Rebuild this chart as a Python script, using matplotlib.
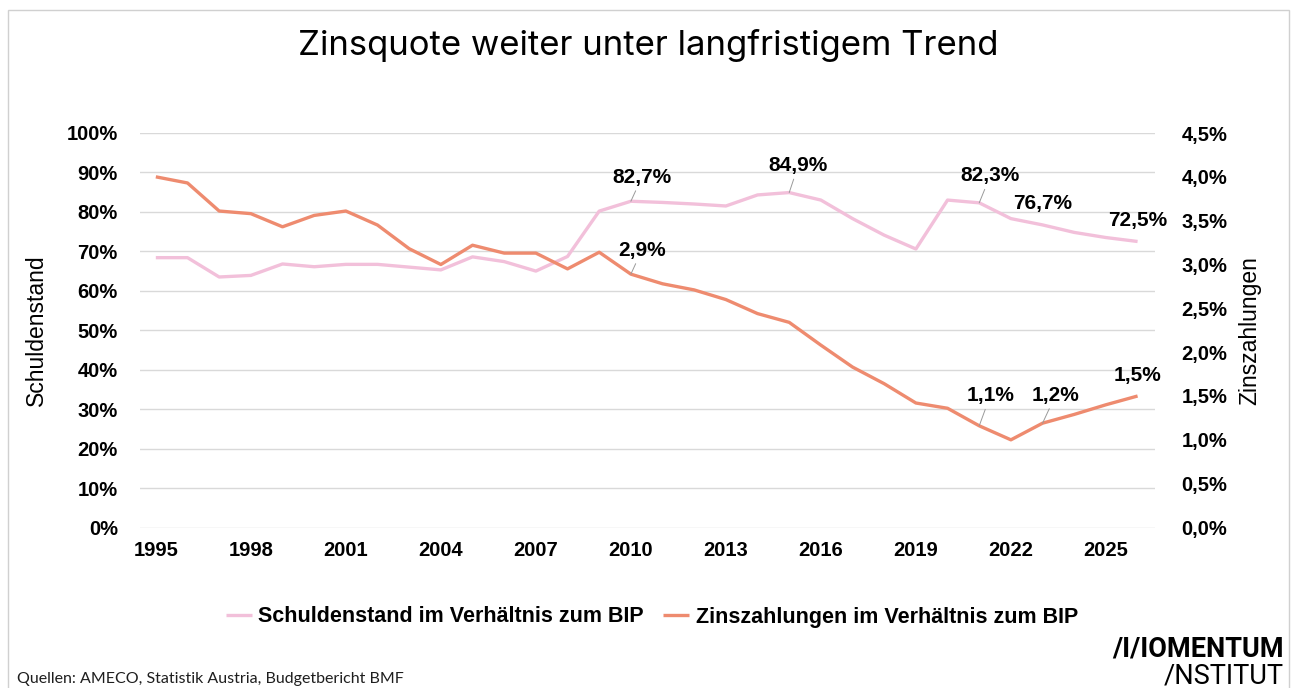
import matplotlib
matplotlib.use("Agg")
import matplotlib.pyplot as plt
from matplotlib.patches import Rectangle
from matplotlib.ticker import FuncFormatter

# Data
years = list(range(1995, 2027))
schuldenstand = [68.4, 68.4, 63.5, 63.9, 66.8, 66.1, 66.7, 66.7, 66.0, 65.3,
                 68.6, 67.4, 65.0, 68.7, 80.2, 82.7, 82.4, 82.0, 81.5, 84.3,
                 84.9, 83.0, 78.3, 74.1, 70.6, 83.0, 82.3, 78.3, 76.7, 74.8,
                 73.5, 72.5]
zinszahlungen = [4.00, 3.93, 3.61, 3.58, 3.43, 3.56, 3.61, 3.45, 3.18, 3.00,
                 3.22, 3.13, 3.13, 2.95, 3.14, 2.89, 2.78, 2.71, 2.60, 2.44,
                 2.34, 2.08, 1.83, 1.64, 1.42, 1.36, 1.16, 1.00, 1.19, 1.29,
                 1.40, 1.50]
xtick_years = list(range(1995, 2026, 3))

# labelled points: (year, text, offset in pixels, leader line)
schulden_labels = [(2010, "82,7%", (11, 24), True),
                   (2015, "84,9%", (9, 27), True),
                   (2021, "82,3%", (11, 27), True),
                   (2023, "76,7%", (0, 21), False),
                   (2026, "72,5%", (0, 21), False)]
zins_labels = [(2010, "2,9%", (11, 24), True),
               (2021, "1,1%", (11, 30), True),
               (2023, "1,2%", (13, 28), True),
               (2026, "1,5%", (0, 20), False)]

PINK = "#F2C0DA"
ORANGE = "#EE8B6F"
GRID = "#D9D9D9"
LABEL_FONT = ["Liberation Sans", "DejaVu Sans"]

fig = plt.figure(figsize=(12.97, 6.88), dpi=100)
fig.patches.append(Rectangle((8 / 1297, -0.01), 1281 / 1297, 1 - 10 / 688 + 0.01,
                             transform=fig.transFigure, fill=False,
                             edgecolor="#D0D0D0", lw=1))

ax = fig.add_axes([140 / 1297, 1 - 527.5 / 688, 1015 / 1297, 394.5 / 688])
ax2 = ax.twinx()

l1, = ax.plot(years, schuldenstand, color=PINK, lw=2.4, solid_capstyle="butt")
l2, = ax2.plot(years, zinszahlungen, color=ORANGE, lw=2.4, solid_capstyle="butt")

ax.set_xlim(1994.5, 2026.55)
ax.set_ylim(0, 100)
ax2.set_ylim(0, 4.5)
ax.set_yticks(range(0, 101, 10))
ax2.set_yticks([i * 0.5 for i in range(10)])
ax.set_xticks(xtick_years)

ax.yaxis.set_major_formatter(FuncFormatter(lambda v, p: f"{v:.0f}%"))
ax2.yaxis.set_major_formatter(FuncFormatter(lambda v, p: f"{v:.1f}%".replace(".", ",")))

ax.grid(axis="y", color=GRID, lw=1)
ax.set_axisbelow(True)
for a in (ax, ax2):
    for s in a.spines.values():
        s.set_visible(False)
    a.tick_params(length=0)
ax.tick_params(axis="y", pad=16)
ax2.tick_params(axis="y", pad=19)
ax.tick_params(axis="x", pad=10)
for lab in ax.get_yticklabels() + ax2.get_yticklabels() + ax.get_xticklabels():
    lab.set_fontfamily(LABEL_FONT)
    lab.set_fontweight("bold")
    lab.set_fontsize(14.5)

ax.set_ylabel("Schuldenstand", fontsize=16.5, family=LABEL_FONT, labelpad=13)
ax2.set_ylabel("Zinszahlungen", fontsize=16.5, family=LABEL_FONT, labelpad=8)

arrow = dict(arrowstyle="-", color="#9A9A9A", lw=0.7, shrinkA=1, shrinkB=0)


def add_labels(a, series, labels):
    for yr, txt, (dx, dy), leader in labels:
        val = series[years.index(yr)]
        a.annotate(txt, xy=(yr, val), xytext=(dx, dy), textcoords="offset pixels",
                   ha="center", va="center", fontsize=15, fontweight="bold",
                   family=LABEL_FONT, arrowprops=arrow if leader else None)


add_labels(ax, schuldenstand, schulden_labels)
add_labels(ax2, zinszahlungen, zins_labels)

fig.legend([l1, l2], ["Schuldenstand im Verhältnis zum BIP",
                      "Zinszahlungen im Verhältnis zum BIP"],
           loc="center", bbox_to_anchor=(652 / 1297, 1 - 617 / 688), ncol=2,
           frameon=False, handlelength=1.2, handletextpad=0.3, columnspacing=0.9,
           prop=dict(family=LABEL_FONT, weight="bold", size=15.5))

fig.text(0.5, 1 - 45 / 688, "Zinsquote weiter unter langfristigem Trend",
         ha="center", va="center", fontsize=25, family=["Inter", "DejaVu Sans"])
fig.text(17 / 1297, 1 - 679 / 688, "Quellen: AMECO, Statistik Austria, Budgetbericht BMF",
         ha="left", va="center", fontsize=11.5, color="#1E1E1E",
         family=["Lato", "DejaVu Sans"])
fig.text(1284 / 1297, 1 - 649 / 688, "/I/IOMENTUM", ha="right", va="center",
         fontsize=19.5, fontweight="bold", family=["Roboto", "DejaVu Sans"])
fig.text(1284 / 1297, 1 - 676 / 688, "/NSTITUT", ha="right", va="center",
         fontsize=19.5, family=["Roboto", "DejaVu Sans"])

fig.savefig("out.png", dpi=100, facecolor="white")
